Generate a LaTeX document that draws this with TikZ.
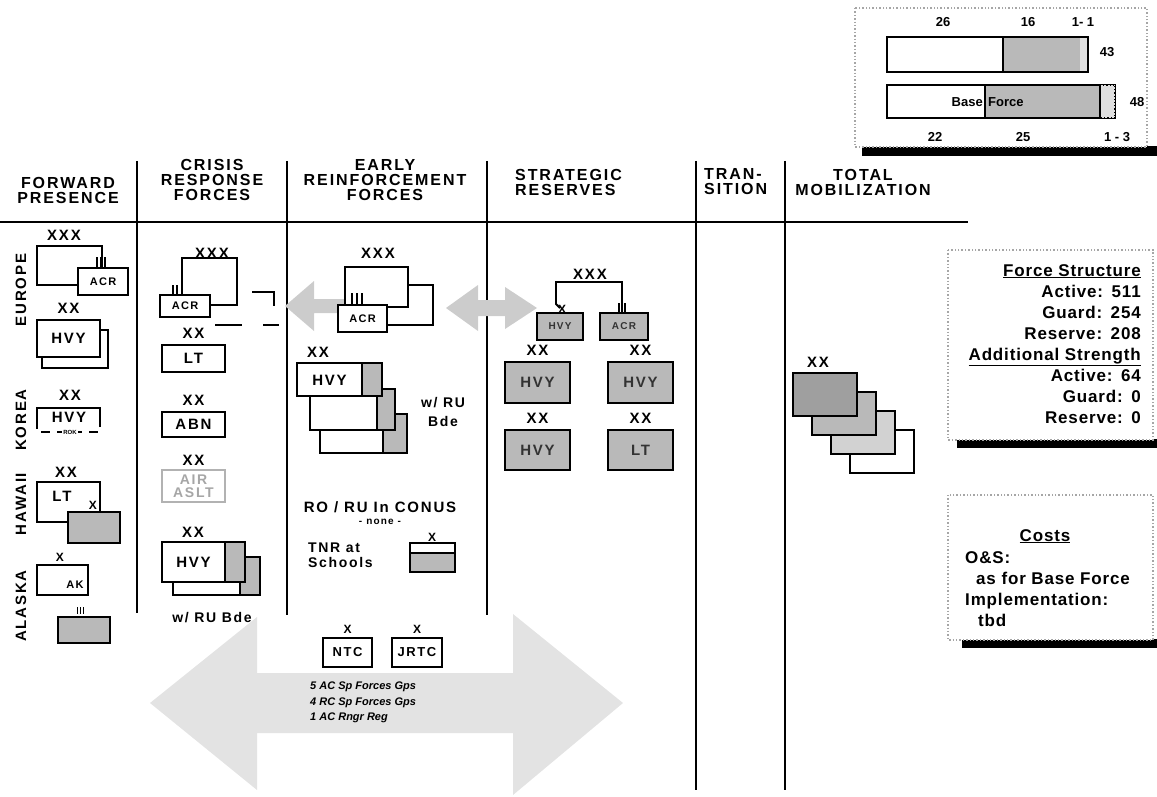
\documentclass[tikz,border=0pt]{standalone}
\usepackage{fontspec}
\setmainfont{Liberation Sans}
\newfontfamily\wide[LetterSpace=12]{Liberation Sans}
\newfontfamily\wider[LetterSpace=5]{Liberation Sans}
\usetikzlibrary{positioning}

\newcommand{\fsz}[2]{\fontsize{#1}{#2}\selectfont}
% white unit box with a shaded right strip (RU brigade)
\newcommand{\rubox}[5]{%
  \draw[unit, pat] (#1,#2) rectangle (#3,#4);
  \draw[unit] (#1,#2) rectangle (#3-#5,#4);}

\tikzset{
  unit/.style={draw, line width=1.8pt, fill=white, inner sep=0pt, font=\wide\bfseries\fsz{15}{15}},
  sunit/.style={unit, fill=gray!55, text=black!80},
  ech/.style={font=\wide\bfseries\fsz{15}{15}, inner sep=0pt},
  smallech/.style={font=\bfseries\fsz{12}{12}, inner sep=0pt},
  hd/.style={font=\wide\bfseries\fsz{16}{15}, align=center, inner sep=0pt},
  area/.style={rotate=90, font=\wide\bfseries\fsz{15}{15}, inner sep=0pt},
  colline/.style={line width=1.6pt},
  pat/.style={fill=gray!55},
  lite/.style={fill=gray!25},
  garrow/.style={fill=gray!40},
  bigarrow/.style={fill=gray!22},
  dotbox/.style={draw=gray!70, dotted, line width=1.4pt, fill=white},
  blackbar/.style={fill=black},
  txt/.style={font=\wider\bfseries\fsz{17}{17}, inner sep=0pt},
  smalltxt/.style={font=\wide\bfseries\fsz{11}{11}, inner sep=0pt},
  chartlbl/.style={font=\bfseries\fsz{13}{13}, inner sep=0pt},
  sof/.style={font=\bfseries\itshape\fsz{11}{11}, inner sep=0pt, anchor=west},
}

\begin{document}
\begin{tikzpicture}[x=1pt,y=-1pt]
\useasboundingbox (0,0) rectangle (1157,797);

% big gray double arrow at the bottom
\fill[bigarrow] (150,703) -- (257,617) -- (257,673) -- (513,673) -- (513,614) -- (623,703)
  -- (513,795) -- (513,733) -- (257,733) -- (257,790) -- cycle;

% column heads
\node[hd] (fp) at (68,190) {FORWARD\\PRESENCE};
\node[hd] (crf) at (212,180) {CRISIS\\RESPONSE\\FORCES};
\node[hd] (erf) at (385,180) {EARLY\\REINFORCEMENT\\FORCES};
\node[hd, align=left, anchor=west] (sr) at (515,182) {STRATEGIC\\RESERVES};
\node[hd, align=left, anchor=west] (tr) at (704,182) {TRAN-\\SITION};
\node[hd] (tm) at (863,182) {TOTAL\\MOBILIZATION};

\draw[line width=2.4pt] (0,222) -- (968,222);
\foreach \x/\y in {137/613,287/615,487/615,696/790,785/790}
  \draw[colline] (\x,161) -- (\x,\y);

% areas
\node[area] (eu) at (21,290) {EUROPE};
\node[area] (ko) at (21,420) {KOREA};
\node[area] (hi) at (21,504) {HAWAII};
\node[area] (ak) at (21,606) {ALASKA};

%% forward presence
\node[ech] (euxxx) at (64,235) {XXX};
\draw[unit] (37,246) rectangle (102,285);
\foreach \x in {97,101,105} \draw[line width=1.2pt] (\x,257) -- (\x,268);
\node[unit, font=\wide\bfseries\fsz{11}{11}, minimum width=50, minimum height=27] (euacr) at (103,281.5) {ACR};
\draw[unit] (42,330) rectangle (108,368);
\node[unit, minimum width=63, minimum height=37] (euhvy) at (68.5,338.5) {HVY};
\node[ech, above=5pt of euhvy] (euxx) {XX};

\node[ech] (koxx) at (70,395) {XX};
\draw[line width=1.8pt] (37,420) |- (100,408) -- (100,420);
\draw[line width=1.8pt, dash pattern=on 9pt off 7pt] (37,420) |- (100,432) -- (100,420);
\node[ech] (kohvy) at (69,417) {HVY};
\node[font=\bfseries\fsz{6}{6}, inner sep=1pt, fill=white] (korok) at (70,432) {ROK};

\node[ech] (hixx) at (66,472) {XX};
\draw[unit] (37,482) rectangle (100,522);
\node[ech] (hilt) at (62,496) {LT};
\draw[unit, pat] (68,512) rectangle (120,543);
\node[smallech] (hix) at (93,505) {X};

\node[smallech] (akx) at (60,557) {X};
\draw[unit] (37,565) rectangle (88,595);
\node[smalltxt] (akak) at (75,585) {AK};
\draw[unit, pat] (58,617) rectangle (110,643);
\foreach \x in {77,80,83} \draw[line width=1pt] (\x,607) -- (\x,614);

%% crisis response
\node[ech] (crxxx) at (212,253) {XXX};
\draw[unit] (182,258) rectangle (237,305);
\foreach \x in {173,177} \draw[line width=1.2pt] (\x,285) -- (\x,295);
\node[unit, font=\wide\bfseries\fsz{11}{11}, minimum width=50, minimum height=22] (cracr) at (185,306) {ACR};
\draw[line width=2pt] (252,292) -| (274,306);
\draw[line width=2pt, dash pattern=on 27pt off 21pt] (215,325) -- (279,325);

\node[unit, minimum width=63, minimum height=27] (crlt) at (193.5,358.5) {LT};
\node[ech, above=5pt of crlt] (crltxx) {XX};
\node[unit, minimum width=63, minimum height=25] (crabn) at (193.5,424.5) {ABN};
\node[ech, above=5pt of crabn] (crabnxx) {XX};
\node[unit, draw=gray!60, text=gray!70, align=center, font=\wide\bfseries\fsz{14}{13}, minimum width=63, minimum height=32] (cras) at (193.5,486) {AIR\\ASLT};
\node[ech, above=3pt of cras] (crasxx) {XX};
\rubox{173}{557}{260}{595}{20}
\rubox{162}{542}{245}{582}{20}
\node[ech] (crhvy) at (193.5,562) {HVY};
\node[ech] (crhvyxx) at (193,532) {XX};
\node[ech, font=\wide\bfseries\fsz{14}{14}] (crru) at (212,618) {w/ RU Bde};

%% early reinforcement
\fill[garrow] (285,306) -- (314,281) -- (314,299) -- (345,299) -- (345,313) -- (314,313) -- (314,331) -- cycle;
\fill[garrow] (446,308) -- (478,285) -- (478,300) -- (505,300) -- (505,287) -- (537,308)
  -- (505,329) -- (505,316) -- (478,316) -- (478,331) -- cycle;
\node[ech] (erxxx) at (378,253) {XXX};
\draw[unit] (375,285) rectangle (433,325);
\draw[unit] (345,267) rectangle (408,307);
\foreach \x in {352,357,362} \draw[line width=1.2pt] (\x,293) -- (\x,305);
\node[unit, font=\wide\bfseries\fsz{11}{11}, minimum width=49, minimum height=27] (eracr) at (362.5,318.5) {ACR};

\rubox{320}{414}{407}{453}{24}
\rubox{310}{389}{395}{430}{18}
\rubox{297}{363}{382}{396}{20}
\node[ech] (erhvy) at (329.5,380) {HVY};
\node[ech] (erxx) at (318,352) {XX};
\node[ech, align=center, font=\wide\bfseries\fsz{14}{19}] (erru) at (443,412) {w/ RU\\Bde};

\node[ech, font=\wide\bfseries\fsz{15}{15}] (roru) at (380,507) {RO / RU In CONUS};
\node[smalltxt, font=\wide\bfseries\fsz{10}{10}] (none) at (380,522) {- none -};
\node[ech, align=left, anchor=west, font=\wide\bfseries\fsz{14}{15}] (tnr) at (308,555) {TNR at\\Schools};
\draw[unit, pat] (410,543) rectangle (455,572);
\draw[unit] (410,543) rectangle (455,553);
\node[smallech] (tnrx) at (432,537) {X};

%% training centres and SOF
\node[unit, font=\wide\bfseries\fsz{13}{13}, minimum width=49, minimum height=29] (ntc) at (347.5,652.5) {NTC};
\node[unit, font=\wide\bfseries\fsz{13}{13}, minimum width=50, minimum height=29] (jrtc) at (417,652.5) {JRTC};
\node[smallech, above=3pt of ntc] (ntcx) {X};
\node[smallech, above=3pt of jrtc] (jrtcx) {X};
\node[sof] (sof1) at (310,687) {5 AC Sp Forces Gps};
\node[sof] (sof2) at (310,703) {4 RC Sp Forces Gps};
\node[sof] (sof3) at (310,718) {1 AC Rngr Reg};

%% strategic reserves
\draw[line width=1.8pt] (560,308) -- (556,304) -- (556,282) -- (622,282) -- (622,313);
\node[ech, fill=white, inner sep=1pt] (srxxx) at (590,274) {XXX};
\node[sunit, font=\wide\bfseries\fsz{10}{10}, minimum width=46, minimum height=27] (srbde) at (560,326.5) {HVY};
\node[sunit, font=\wide\bfseries\fsz{10}{10}, minimum width=48, minimum height=27] (sracr) at (624,326.5) {ACR};
\foreach \x in {619,625} \draw[line width=1.2pt] (\x,303) -- (\x,313);
\node[smallech] (srx) at (562,309) {X};
\node[sunit, minimum width=65, minimum height=41] (srh1) at (537.5,382.5) {HVY};
\node[sunit, minimum width=65, minimum height=41] (srh2) at (640.5,382.5) {HVY};
\node[sunit, minimum width=65, minimum height=40] (srh3) at (537.5,450) {HVY};
\node[sunit, minimum width=65, minimum height=40] (srlt) at (640.5,450) {LT};
\foreach \n in {srh1,srh2,srh3,srlt}
  \node[ech, above=5pt of \n] {XX};

%% total mobilization
\foreach \i/\c in {3/white,2/gray!35,1/gray!55,0/gray!75}
  \draw[unit, fill=\c] (793+19*\i,373+19*\i) rectangle ++(64,43);
\node[ech] (tmxx) at (818,362) {XX};

%% force mix chart
\fill[blackbar] (862,146) rectangle (1157,156);
\draw[dotbox] (855,8) rectangle (1147,147);
\draw[line width=1.5pt, fill=white] (887,37) rectangle (1088,72);
\fill[pat] (1003,37) rectangle (1080,72);
\fill[lite] (1080,37) rectangle (1088,72);
\draw[line width=1.5pt] (887,37) rectangle (1088,72) (1003,37) -- (1003,72);
\draw[line width=1.5pt, fill=white] (887,85) rectangle (1115,118);
\fill[pat] (985,85) rectangle (1100,118);
\fill[lite] (1100,85) rectangle (1115,118);
\draw[line width=1.5pt] (887,85) rectangle (1100,118) (985,85) -- (985,118);
\draw[dotted, line width=1.2pt] (1100,85) -- (1115,85) -- (1115,118) -- (1100,118);
\foreach \x/\y/\t in {943/22/26,1028/22/16,1083/22/1- 1,1107/52/43,1137/102/48,935/137/22,1023/137/25,1117/137/1 - 3}
  \node[chartlbl] at (\x,\y) {\t};
\node[chartlbl, anchor=east] (base) at (983,102) {Base};
\node[chartlbl, anchor=west] (force) at (988,102) {Force};

%% force structure
\fill[blackbar] (957,439) rectangle (1157,448);
\draw[dotbox] (948,250) rectangle (1153,440);
\foreach \t [count=\i from 0] in {\underline{Force Structure},Active:\enspace511,Guard:\enspace254,Reserve:\enspace208,\underline{Additional Strength},Active:\enspace64,Guard:\enspace0,Reserve:\enspace0}
  \node[txt, anchor=base east] (fs\i) at (1141,276+21*\i) {\t};

%% costs
\fill[blackbar] (962,639) rectangle (1157,648);
\draw[dotbox] (948,495) rectangle (1153,640);
\node[txt, anchor=base] (costs) at (1045,541) {\underline{Costs}};
\node[txt, anchor=base west] (os) at (965,563) {O\&S:};
\node[txt, anchor=base west] (osb) at (976,584) {as for Base Force};
\node[txt, anchor=base west] (imp) at (965,605) {Implementation:};
\node[txt, anchor=base west] (tbd) at (978,626) {tbd};
\end{tikzpicture}
\end{document}
